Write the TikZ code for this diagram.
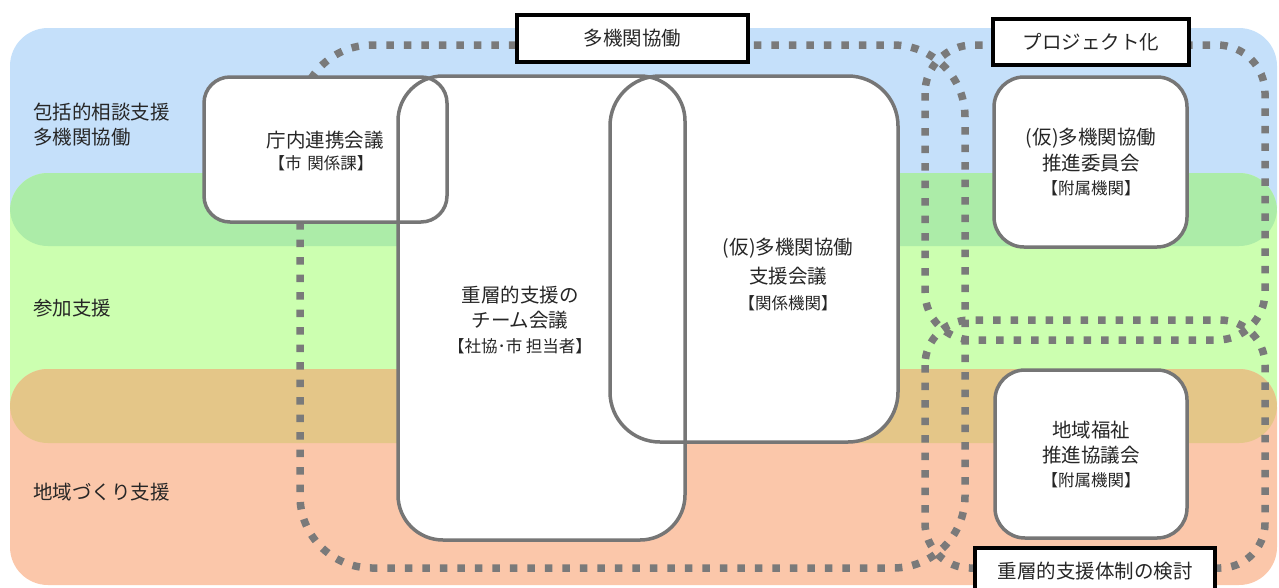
\documentclass[tikz,border=0pt]{standalone}
\usepackage{fontspec}
\setmainfont{Noto Sans CJK JP}
\definecolor{bandblue}{RGB}{197,224,250}
\definecolor{bandgreen}{RGB}{204,255,176}
\definecolor{bandgreendark}{RGB}{172,236,168}
\definecolor{bandorange}{RGB}{251,199,170}
\definecolor{bandtan}{RGB}{228,198,136}
\definecolor{dotgray}{RGB}{122,122,122}
\definecolor{boxgray}{RGB}{118,118,118}
\definecolor{txt}{RGB}{38,38,38}
\newcommand{\fmain}{\fontsize{19.5pt}{23pt}\selectfont}
\newcommand{\fsmall}{\fontsize{16.5pt}{19pt}\selectfont}
\tikzset{
  band/.style={rounded corners=38pt},
  dotloop/.style={draw=dotgray, line width=7.5pt, dash pattern=on 7.5pt off 10pt},
  boxfill/.style={fill=white, draw=none, inner sep=0pt, outer sep=0pt},
  boxline/.style={draw=boxgray, line width=3.5pt},
  titlebox/.style={fill=white, draw=black, line width=3.5pt, inner sep=0pt, text=txt, font=\fmain},
  mtext/.style={text=txt, font=\fmain, inner sep=0pt},
  stext/.style={text=txt, font=\fsmall, inner sep=0pt},
  side/.style={text=txt, font=\fmain, inner sep=0pt, anchor=west}
}
\begin{document}
\begin{tikzpicture}[x=1pt,y=-1pt]
\useasboundingbox (0,0) rectangle (1279,587);
\clip (0,0) rectangle (1279,587);
% bands
\fill[bandblue, band] (10,28) rectangle (1277,246);
\fill[bandgreen, band] (10,173) rectangle (1277,443);
\fill[bandorange, band] (10,369) rectangle (1277,585);
\begin{scope}
  \clip[band] (10,28) rectangle (1277,246);
  \fill[bandgreendark, band] (10,173) rectangle (1277,443);
\end{scope}
\begin{scope}
  \clip[band] (10,173) rectangle (1277,443);
  \fill[bandtan, band] (10,369) rectangle (1277,585);
\end{scope}
% dotted groups
\draw[dotloop, rounded corners=72pt] (300,45) rectangle (965,568);
\draw[dotloop, rounded corners=48pt] (925,45) rectangle (1265,340);
\draw[dotloop, rounded corners=45pt] (925,320) rectangle (1265,568);
% box fills
\node[boxfill, rounded corners=26pt, minimum width=243pt, minimum height=145pt] (chonai) at (325.5,149.5) {};
\node[boxfill, rounded corners=45pt, minimum width=287pt, minimum height=464pt] (team) at (541.5,308) {};
\node[boxfill, rounded corners=50pt, minimum width=288pt, minimum height=366pt] (shien) at (754,259) {};
\node[boxfill, rounded corners=30pt, minimum width=193pt, minimum height=170pt] (suishin) at (1090.5,162) {};
\node[boxfill, rounded corners=30pt, minimum width=192pt, minimum height=168pt] (chiiki) at (1091,454) {};
% box outlines
\draw[boxline, rounded corners=26pt] (chonai.north west) rectangle (chonai.south east);
\draw[boxline, rounded corners=45pt] (team.north west) rectangle (team.south east);
\draw[boxline, rounded corners=50pt] (shien.north west) rectangle (shien.south east);
\draw[boxline, rounded corners=30pt] (suishin.north west) rectangle (suishin.south east);
\draw[boxline, rounded corners=30pt] (chiiki.north west) rectangle (chiiki.south east);
% title boxes
\node[titlebox, minimum width=231pt, minimum height=47pt] (title1) at (632.5,38.5) {多機関協働};
\node[titlebox, minimum width=196pt, minimum height=46pt] (title2) at (1091,42) {プロジェクト化};
\node[titlebox, minimum width=240pt, minimum height=47pt] (title3) at (1095,571.5) {重層的支援体制の検討};
% side labels
\node[side] (s1a) at (33,112) {包括的相談支援};
\node[side] (s1b) at (33,137) {多機関協働};
\node[side] (s2) at (33,308) {参加支援};
\node[side] (s3) at (33,492) {地域づくり支援};
% box texts
\node[mtext] (c1) at (325,140) {庁内連携会議};
\node[stext] (c2) at (321,163) {【市\hspace{6pt}関係課】};
\node[mtext] (tm1) at (520,295) {重層的支援の};
\node[mtext] (tm2) at (520,320) {チーム会議};
\node[stext] (tm3) at (520,346) {【社協･市 担当者】};
\node[mtext] (sh1) at (788,248) {(仮)多機関協働};
\node[mtext] (sh2) at (788,276) {支援会議};
\node[stext] (sh3) at (788,303) {【関係機関】};
\node[mtext] (su1) at (1091,138) {(仮)多機関協働};
\node[mtext] (su2) at (1091,163) {推進委員会};
\node[stext] (su3) at (1091,188) {【附属機関】};
\node[mtext] (ch1) at (1091,430) {地域福祉};
\node[mtext] (ch2) at (1091,455) {推進協議会};
\node[stext] (ch3) at (1091,480) {【附属機関】};
\end{tikzpicture}
\end{document}
